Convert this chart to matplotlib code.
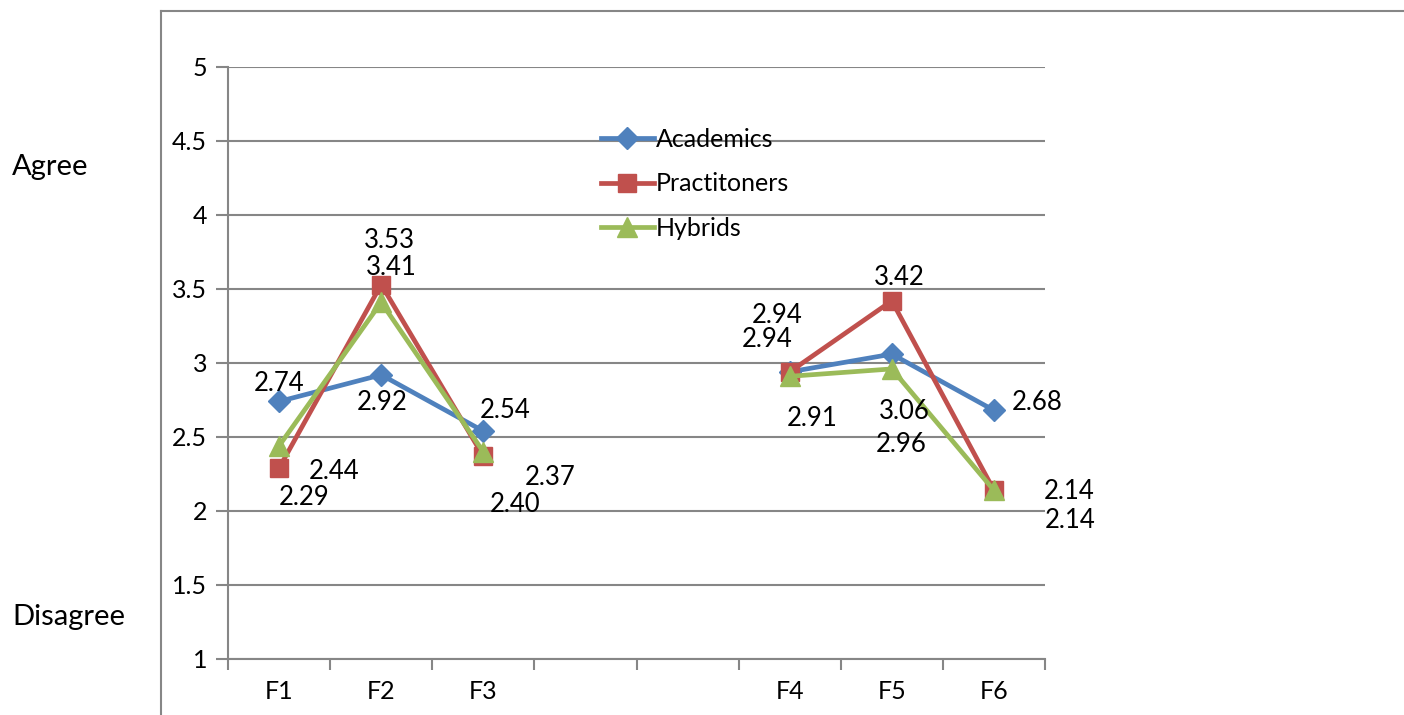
import numpy as np
import matplotlib
matplotlib.use('Agg')
import matplotlib.pyplot as plt
from matplotlib.lines import Line2D

plt.rcParams['font.family'] = ['Lato', 'DejaVu Sans']

# 数据
categories = ['F1', 'F2', 'F3', '', '', 'F4', 'F5', 'F6']
academics = [2.74, 2.92, 2.54, np.nan, np.nan, 2.94, 3.06, 2.68]
practitioners = [2.29, 3.53, 2.37, np.nan, np.nan, 2.94, 3.42, 2.14]
hybrids = [2.44, 3.41, 2.40, np.nan, np.nan, 2.91, 2.96, 2.14]
y_ticks = [1, 1.5, 2, 2.5, 3, 3.5, 4, 4.5, 5]

# 数据标签偏移（像素）
off_acad = [(0, 18), (1, -28), (22, 21), None, None, (-23, 32), (12, -57), (43, 8)]
off_prac = [(25, -29), (8, 44), (67, -21), None, None, (-13, 56), (7, 23), (75, -1)]
off_hyb = [(55, -26), (10, 35), (32, -53), None, None, (22, -42), (9, -76), (76, -30)]

grey = '#868686'
fig = plt.figure(figsize=(14.04, 7.15), dpi=100)
ax = fig.add_axes([228 / 1404, 1 - 659 / 715, (1045 - 228) / 1404, (659 - 67) / 715])

x = np.arange(len(categories))
series = [
    ('Academics', academics, '#4F81BD', 'D', 11, off_acad),
    ('Practitoners', practitioners, '#C0504D', 's', 13, off_prac),
    ('Hybrids', hybrids, '#9BBB59', '^', 14, off_hyb),
]
for name, vals, col, mk, ms, offs in series:
    ax.plot(x, vals, color=col, lw=3.4, marker=mk, markersize=ms, label=name, zorder=3)
    for i, v in enumerate(vals):
        if offs[i] is None:
            continue
        ax.annotate(f'{v:.2f}', (x[i], v), xytext=offs[i], textcoords='offset pixels',
                    ha='center', va='center', fontsize=18.5, color='black', zorder=4)

ax.set_xlim(-0.5, len(categories) - 0.5)
ax.set_ylim(1, 5)
ax.set_yticks(y_ticks)
ax.set_yticklabels([f'{t:g}' for t in y_ticks], fontsize=18)
ax.yaxis.grid(True, color=grey, lw=1.5)
ax.set_axisbelow(True)

ax.set_xticks(x)
ax.set_xticklabels(categories, fontsize=18)
ax.set_xticks(np.arange(-0.5, len(categories)), minor=True)
ax.tick_params(axis='x', which='major', length=0, pad=15)
ax.tick_params(axis='x', which='minor', length=8, width=1.5, color=grey, direction='out')
ax.tick_params(axis='y', length=9, width=1.5, color=grey, pad=6)

for s in ['top', 'right']:
    ax.spines[s].set_visible(False)
for s in ['left', 'bottom']:
    ax.spines[s].set_color(grey)
    ax.spines[s].set_linewidth(1.5)

ax.legend(loc='upper left', bbox_to_anchor=(591 / 1404, 1 - 118 / 715),
          bbox_transform=fig.transFigure, frameon=False, fontsize=18,
          handlelength=2.1, handletextpad=0.1, labelspacing=0.85, borderaxespad=0)

# 外框
fig.add_artist(Line2D([161 / 1404, 1], [1 - 11 / 715] * 2, color=grey, lw=1.5))
fig.add_artist(Line2D([161 / 1404] * 2, [0, 1 - 11 / 715], color=grey, lw=1.5))

fig.text(12 / 1404, 1 - 167 / 715, 'Agree', fontsize=21, ha='left', va='center')
fig.text(12 / 1404, 1 - 617 / 715, 'Disagree', fontsize=21, ha='left', va='center')

fig.savefig('out.png', dpi=100)
